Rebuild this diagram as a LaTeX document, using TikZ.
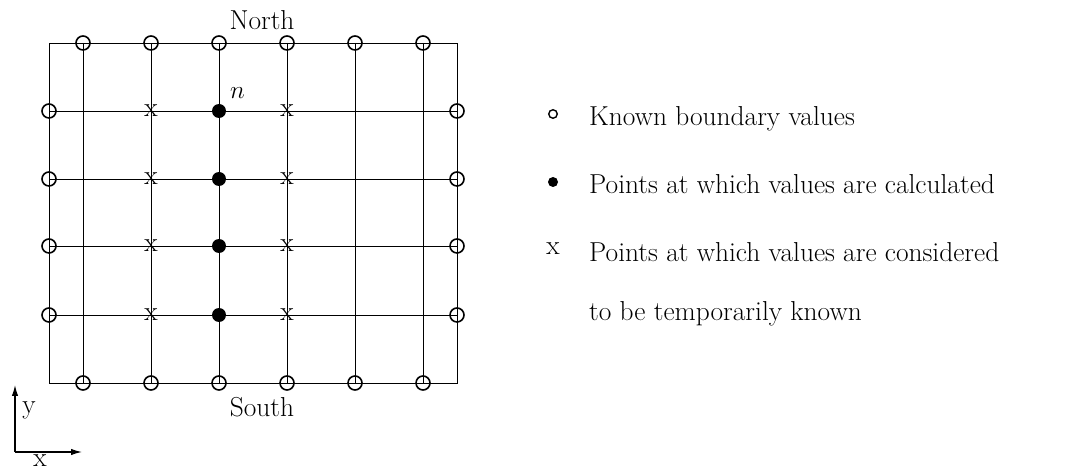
\documentclass[tikz,border=0pt]{standalone}
\usetikzlibrary{positioning, arrows.meta}

\begin{document}
\begin{tikzpicture}[x=0.02cm, y=-0.02cm,
  known/.style={draw, circle, line width=0.9pt, minimum size=0.28cm, inner sep=0pt},
  calc/.style={fill, circle, minimum size=0.28cm, inner sep=0pt},
  temp/.style={inner sep=0pt},
  gridline/.style={line width=0.5pt},
  every node/.style={font=\fontsize{15.6}{18}\selectfont}
]
  \useasboundingbox (0,0) rectangle (1065,469);

  % outer frame corners
  \coordinate (nw) at (49,43);
  \coordinate (ne) at (457,43);
  \coordinate (sw) at (49,383);
  \coordinate (se) at (457,383);
  \draw[gridline] (nw) -- (ne) -- (se) -- (sw) -- cycle;

  % boundary points, north and south
  \foreach \i/\x in {1/83,2/151,3/219,4/287,5/355,6/423}{
    \node[known] (t\i) at (\x,43) {};
    \node[known] (b\i) at (\x,383) {};
    \draw[gridline] (t\i.center) -- (b\i.center);
  }
  % boundary points, west and east
  \foreach \j/\y in {1/111,2/179,3/246,4/315}{
    \node[known] (l\j) at (49,\y) {};
    \node[known] (r\j) at (457,\y) {};
    \draw[gridline] (l\j.center) -- (r\j.center);
    \node[calc] (c\j) at (219,\y) {};
    \node[temp] (xa\j) at (151,\y) {x};
    \node[temp] (xb\j) at (287,\y) {x};
  }

  \node[anchor=south west, inner sep=1pt] (nlab) at (228,101) {$n$};
  \node (north) at (262,20) {North};
  \node (south) at (262,407) {South};

  % axes
  \coordinate (origin) at (15,452);
  \coordinate (ytip) at (15,385);
  \coordinate (xtip) at (82,452);
  \draw[line width=0.8pt, -{Latex[length=2.2mm, width=1.3mm]}] (origin) -- (ytip);
  \draw[line width=0.8pt, -{Latex[length=2.2mm, width=1.3mm]}] (origin) -- (xtip);
  \node (ylab) at (29,410) {y};
  \node[anchor=north, inner sep=0pt] (xlab) at (40,454) {x};

  % legend
  \node[draw, circle, line width=0.8pt, minimum size=0.17cm, inner sep=0pt] (leg1) at (553,114) {};
  \node[calc, minimum size=0.2cm] (leg2) at (553,182) {};
  \node[temp] (leg3) at (553,249) {x};
  \node[anchor=base west] (txt1) at (583,126) {Known boundary values};
  \node[anchor=base west] (txt2) at (583,194) {Points at which values are calculated};
  \node[anchor=base west] (txt3) at (583,262) {Points at which values are considered};
  \node[anchor=base west] (txt4) at (583,321) {to be temporarily known};
\end{tikzpicture}
\end{document}
